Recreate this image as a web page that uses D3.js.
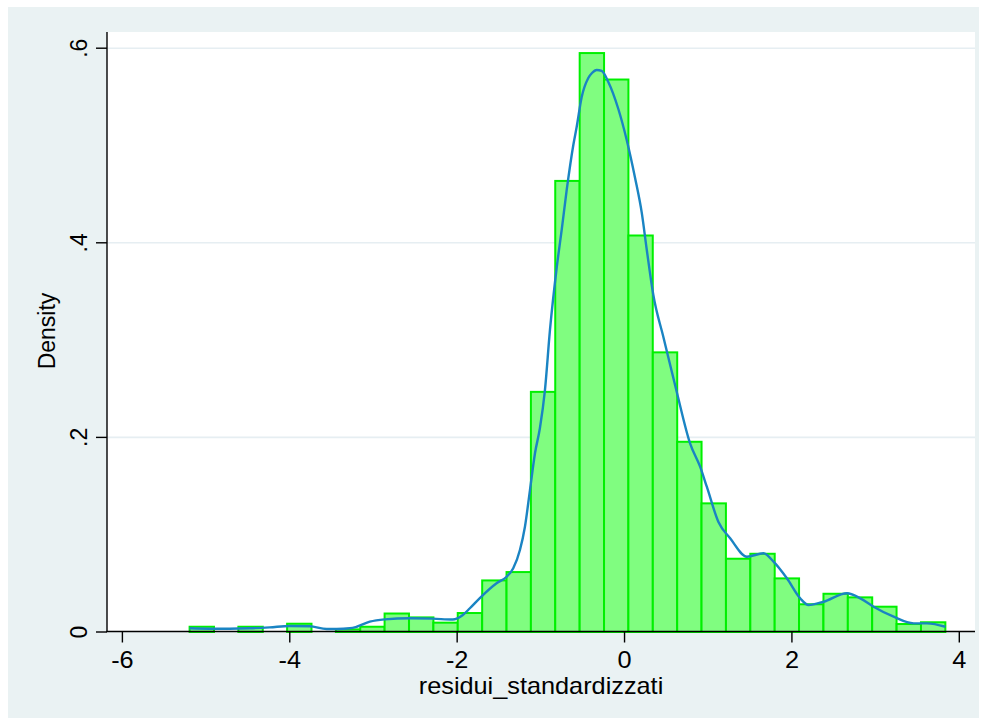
<!DOCTYPE html>
<html>
<head>
<meta charset="utf-8">
<script src="https://cdn.jsdelivr.net/npm/d3@7"></script>
<style>
  html, body { margin: 0; padding: 0; background: #ffffff; }
  svg { display: block; }
  text { font-family: "Liberation Sans", Arial, Helvetica, sans-serif; fill: #000; }
</style>
</head>
<body>
<svg id="chart" width="987" height="725"></svg>
<script>
// ---- data ----
const binStarts = [-5.197, -4.906, -4.614, -4.323, -4.032, -3.741, -3.449, -3.158, -2.867, -2.575,
                   -2.284, -1.993, -1.701, -1.410, -1.119, -0.828, -0.536, -0.245, 0.046, 0.338,
                   0.629, 0.920, 1.212, 1.503, 1.794, 2.085, 2.377, 2.668, 2.959, 3.251, 3.542];
const binWidth = 0.2913;
const binDensity = [0.0054, 0, 0.0054, 0, 0.0085, 0, 0.0027, 0.0054, 0.019, 0.015,
                    0.0096, 0.0195, 0.053, 0.0616, 0.2468, 0.4636, 0.595, 0.5678, 0.4075, 0.2874,
                    0.1955, 0.1322, 0.0753, 0.0804, 0.0551, 0.0285, 0.0393, 0.0356, 0.026, 0.0082, 0.01];

const kdeX = [-5.197, -4.958, -4.719, -4.480, -4.241, -4.001, -3.762, -3.559, -3.439, -3.283,
              -3.200, -3.044, -2.865, -2.566, -2.291, -2.052, -1.932, -1.848, -1.729, -1.529,
              -1.409, -1.330, -1.250, -1.190, -1.130, -1.070, -1.011, -0.951, -0.891, -0.811,
              -0.751, -0.691, -0.612, -0.572, -0.512, -0.433, -0.389, -0.333, -0.273, -0.194,
              -0.074, 0.026, 0.126, 0.206, 0.266, 0.344, 0.464, 0.624, 0.783, 0.903,
              0.983, 1.122, 1.262, 1.462, 1.660, 1.780, 1.940, 2.099, 2.199, 2.378,
              2.658, 2.817, 2.976, 3.215, 3.455, 3.615, 3.834];
const kdeY = [0.0038, 0.0034, 0.0034, 0.0038, 0.0048, 0.0062, 0.0059, 0.0031, 0.0031, 0.0038,
              0.0054, 0.0106, 0.0130, 0.0141, 0.0137, 0.0128, 0.0175, 0.0244, 0.0349, 0.0501,
              0.0568, 0.0655, 0.0843, 0.1082, 0.1459, 0.1837, 0.2097, 0.2487, 0.3104, 0.3741,
              0.4132, 0.4543, 0.5005, 0.5190, 0.5498, 0.5694, 0.5745, 0.5776, 0.5766, 0.5653,
              0.5375, 0.5057, 0.4666, 0.4307, 0.3926, 0.3463, 0.3032, 0.2467, 0.1939, 0.1699,
              0.1493, 0.1131, 0.0963, 0.0774, 0.0809, 0.0723, 0.0552, 0.0346, 0.0277, 0.0311,
              0.0398, 0.0346, 0.0260, 0.0157, 0.0089, 0.0089, 0.0054];

const xTicks = [-6, -4, -2, 0, 2, 4];
const xTickLabels = ["-6", "-4", "-2", "0", "2", "4"];
const yTicks = [0, 0.2, 0.4, 0.6];
const yTickLabels = ["0", ".2", ".4", ".6"];
const xTitle = "residui_standardizzati";
const yTitle = "Density";

// ---- layout ----
const svg = d3.select("#chart");
const W = 987, H = 725;
const plot = { left: 107, right: 975, top: 32, bottom: 631.5 };

const x = d3.scaleLinear().domain([-6, 4]).range([122.4, 959.3]);
const y = d3.scaleLinear().domain([0, 0.6]).range([632, 48.2]);

// outer background
svg.append("rect").attr("x", 8).attr("y", 7).attr("width", 971).attr("height", 711)
  .attr("fill", "#eaf2f3");
// plot region
svg.append("rect").attr("x", plot.left).attr("y", plot.top)
  .attr("width", plot.right - plot.left).attr("height", plot.bottom - plot.top)
  .attr("fill", "#ffffff");

// gridlines
svg.append("g").selectAll("line").data(yTicks.filter(d => d > 0)).join("line")
  .attr("x1", plot.left).attr("x2", plot.right)
  .attr("y1", d => y(d)).attr("y2", d => y(d))
  .attr("stroke", "#e6eef2").attr("stroke-width", 1.6);

// histogram bars
const bars = binStarts.map((s, i) => ({ s, d: binDensity[i] })).filter(b => b.d > 0);
svg.append("g").selectAll("rect").data(bars).join("rect")
  .attr("x", b => x(b.s))
  .attr("width", b => x(b.s + binWidth) - x(b.s))
  .attr("y", b => y(b.d))
  .attr("height", b => y(0) - y(b.d))
  .attr("fill", "#80fd80")
  .attr("stroke", "#00f000")
  .attr("stroke-width", 2);

// kernel density line
const line = d3.line().x((d, i) => x(kdeX[i])).y((d) => y(d)).curve(d3.curveMonotoneX);
svg.append("path").datum(kdeY)
  .attr("d", line)
  .attr("fill", "none")
  .attr("stroke", "#1a84c3")
  .attr("stroke-width", 2.4)
  .attr("stroke-linejoin", "round");

// axes lines
svg.append("line").attr("x1", plot.left).attr("x2", plot.left)
  .attr("y1", plot.top).attr("y2", plot.bottom + 0.5)
  .attr("stroke", "#000").attr("stroke-width", 1.4);
svg.append("line").attr("x1", plot.left - 0.7).attr("x2", plot.right)
  .attr("y1", plot.bottom).attr("y2", plot.bottom)
  .attr("stroke", "#000").attr("stroke-width", 1.4);

// x ticks
const xg = svg.append("g");
xg.selectAll("line").data(xTicks).join("line")
  .attr("x1", d => x(d)).attr("x2", d => x(d))
  .attr("y1", plot.bottom).attr("y2", plot.bottom + 11)
  .attr("stroke", "#000").attr("stroke-width", 1.4);
xg.selectAll("text").data(xTicks).join("text")
  .attr("transform", d => `translate(${x(d)},668) scale(1.1,1)`)
  .attr("text-anchor", "middle")
  .attr("font-size", 23)
  .text((d, i) => xTickLabels[i]);

// y ticks
const yg = svg.append("g");
yg.selectAll("line").data(yTicks).join("line")
  .attr("x1", plot.left - 11).attr("x2", plot.left)
  .attr("y1", d => y(d)).attr("y2", d => y(d))
  .attr("stroke", "#000").attr("stroke-width", 1.4);
yg.selectAll("text").data(yTicks).join("text")
  .attr("transform", d => `translate(87,${y(d)}) rotate(-90)`)
  .attr("text-anchor", "middle")
  .attr("font-size", 23)
  .text((d, i) => yTickLabels[i]);

// titles
svg.append("text")
  .attr("transform", `translate(541,694) scale(1.1,1)`)
  .attr("text-anchor", "middle")
  .attr("font-size", 23)
  .text(xTitle);
svg.append("text")
  .attr("transform", `translate(55,331) rotate(-90)`)
  .attr("text-anchor", "middle")
  .attr("font-size", 23)
  .text(yTitle);
</script>
</body>
</html>
